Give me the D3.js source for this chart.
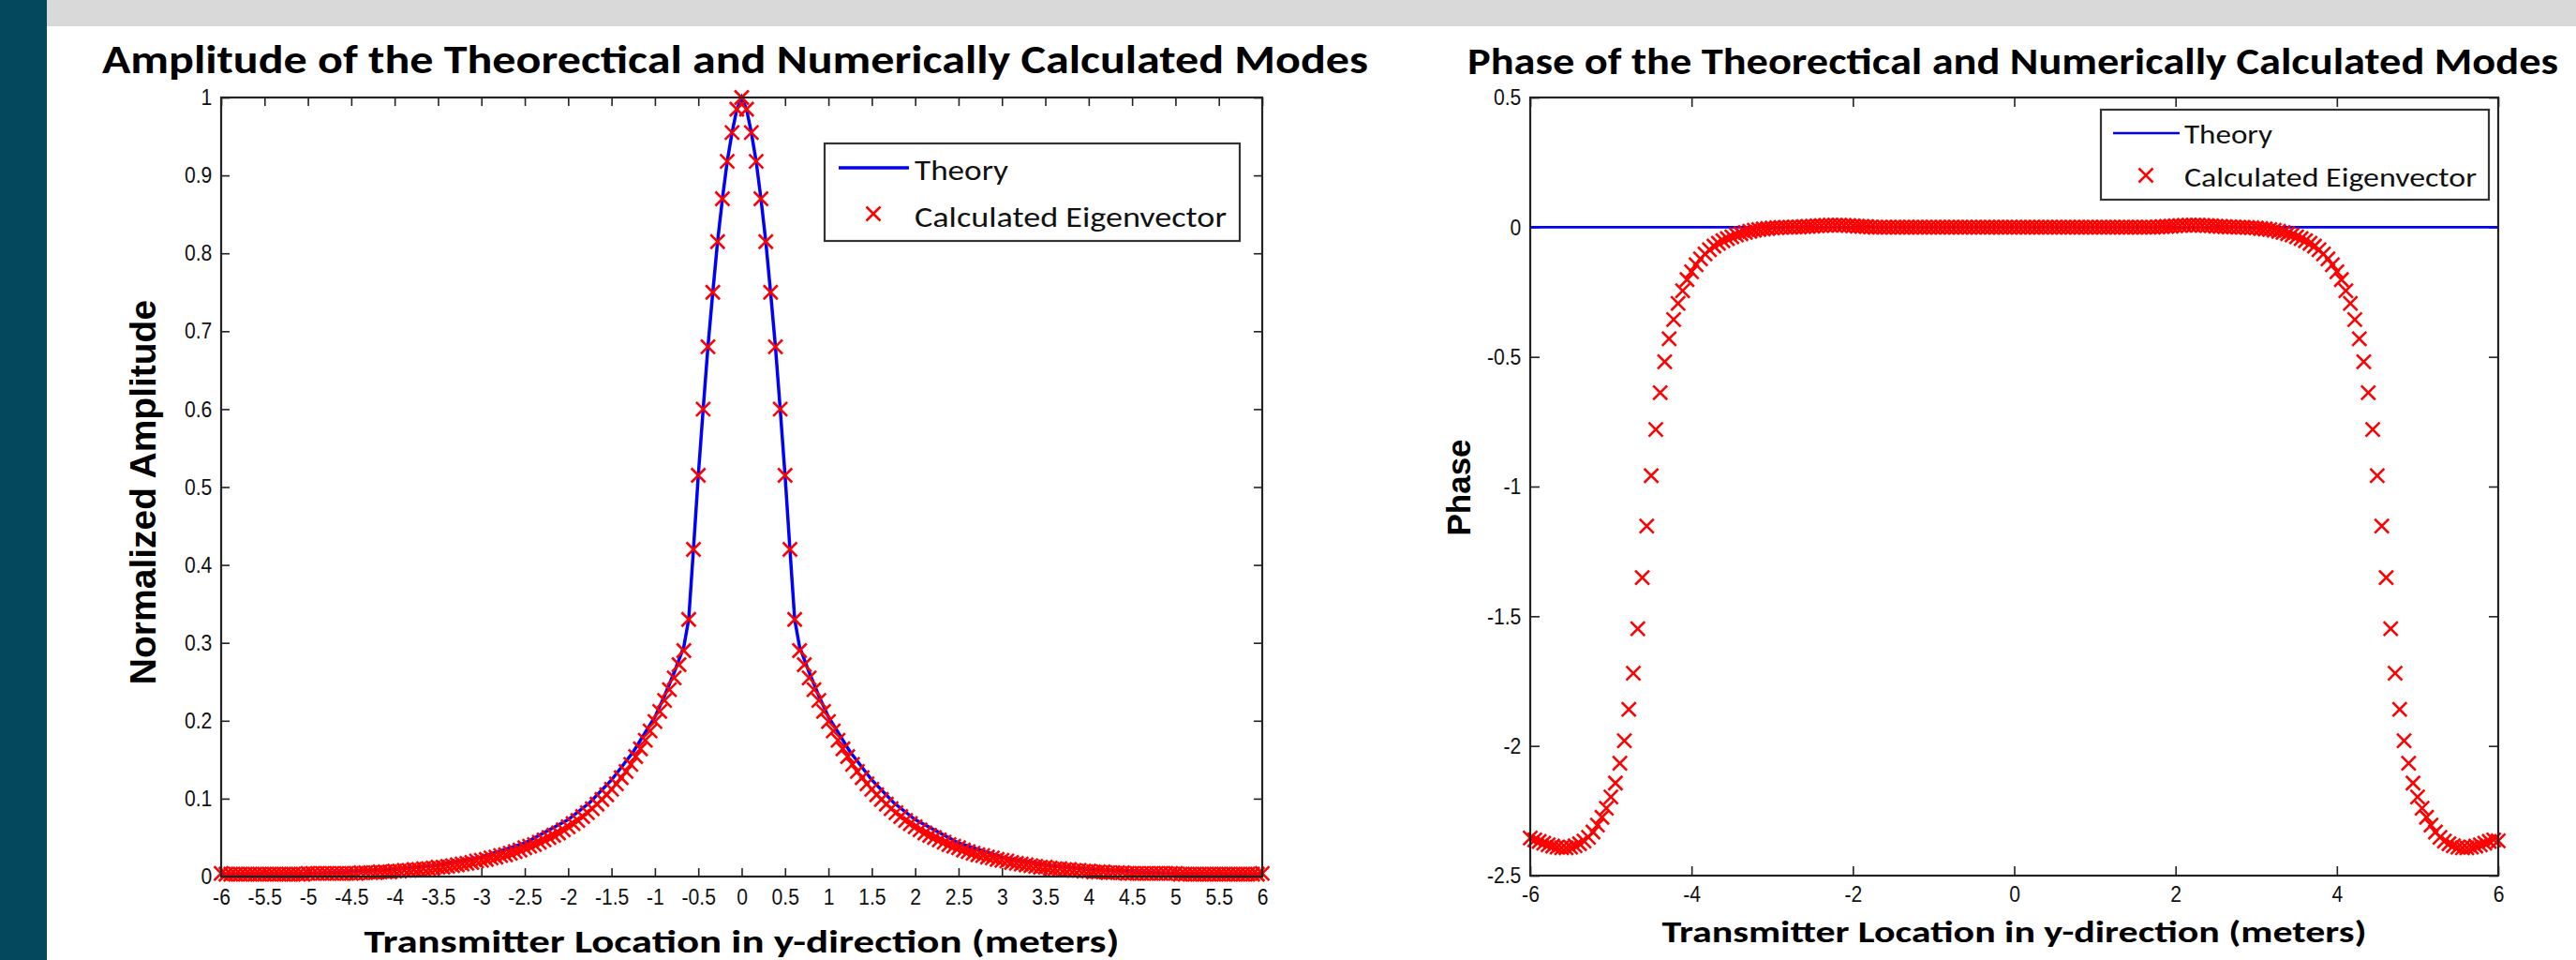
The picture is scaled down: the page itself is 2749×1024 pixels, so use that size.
<!DOCTYPE html>
<html>
<head>
<meta charset="utf-8">
<script src="https://cdn.jsdelivr.net/npm/d3@7"></script>
<style>
html, body { margin: 0; padding: 0; background: #fff; }
svg { display: block; }
</style>
</head>
<body>
<svg id="slide" width="2749" height="1024"></svg>
<script>
// sample positions (transmitter location, metres) shared by both panels
var gridX = [
  -6,-5.944,-5.889,-5.833,-5.778,-5.722,-5.667,-5.611,-5.556,-5.5,-5.444,-5.389,-5.333,-5.278,-5.222,-5.167,-5.111,-5.056,
  -5,-4.944,-4.889,-4.833,-4.778,-4.722,-4.667,-4.611,-4.556,-4.5,-4.444,-4.389,-4.333,-4.278,-4.222,-4.167,-4.111,-4.056,
  -4,-3.944,-3.889,-3.833,-3.778,-3.722,-3.667,-3.611,-3.556,-3.5,-3.444,-3.389,-3.333,-3.278,-3.222,-3.167,-3.111,-3.056,
  -3,-2.944,-2.889,-2.833,-2.778,-2.722,-2.667,-2.611,-2.556,-2.5,-2.444,-2.389,-2.333,-2.278,-2.222,-2.167,-2.111,-2.056,
  -2,-1.944,-1.889,-1.833,-1.778,-1.722,-1.667,-1.611,-1.556,-1.5,-1.444,-1.389,-1.333,-1.278,-1.222,-1.167,-1.111,-1.056,
  -1,-0.944,-0.889,-0.833,-0.778,-0.722,-0.667,-0.611,-0.556,-0.5,-0.444,-0.389,-0.333,-0.278,-0.222,-0.167,-0.111,-0.056,
  0,0.056,0.111,0.167,0.222,0.278,0.333,0.389,0.444,0.5,0.556,0.611,0.667,0.722,0.778,0.833,0.889,0.944,
  1,1.056,1.111,1.167,1.222,1.278,1.333,1.389,1.444,1.5,1.556,1.611,1.667,1.722,1.778,1.833,1.889,1.944,
  2,2.056,2.111,2.167,2.222,2.278,2.333,2.389,2.444,2.5,2.556,2.611,2.667,2.722,2.778,2.833,2.889,2.944,
  3,3.056,3.111,3.167,3.222,3.278,3.333,3.389,3.444,3.5,3.556,3.611,3.667,3.722,3.778,3.833,3.889,3.944,
  4,4.056,4.111,4.167,4.222,4.278,4.333,4.389,4.444,4.5,4.556,4.611,4.667,4.722,4.778,4.833,4.889,4.944,
  5,5.056,5.111,5.167,5.222,5.278,5.333,5.389,5.444,5.5,5.556,5.611,5.667,5.722,5.778,5.833,5.889,5.944,
  6
];

// calculated eigenvector amplitude (red x)
var ampCalc = [
  0.004,0.003,0.003,0.003,0.003,0.003,0.003,0.003,0.003,0.003,0.003,0.003,0.003,0.003,0.003,0.003,0.003,0.003,
  0.004,0.004,0.004,0.004,0.004,0.004,0.004,0.004,0.004,0.004,0.004,0.005,0.005,0.005,0.005,0.006,0.006,0.006,
  0.007,0.007,0.008,0.008,0.009,0.009,0.010,0.010,0.011,0.012,0.012,0.013,0.014,0.015,0.016,0.017,0.018,0.020,
  0.021,0.022,0.024,0.025,0.027,0.028,0.030,0.032,0.034,0.037,0.039,0.041,0.044,0.047,0.050,0.053,0.056,0.060,
  0.064,0.068,0.072,0.077,0.082,0.087,0.093,0.099,0.105,0.112,0.119,0.127,0.135,0.144,0.154,0.164,0.175,0.187,
  0.199,0.212,0.226,0.240,0.255,0.272,0.290,0.330,0.420,0.515,0.600,0.680,0.750,0.815,0.870,0.918,0.955,0.985,
  1.000,0.985,0.955,0.918,0.870,0.815,0.750,0.680,0.600,0.515,0.420,0.330,0.290,0.272,0.255,0.240,0.226,0.212,
  0.199,0.187,0.175,0.164,0.154,0.144,0.135,0.127,0.119,0.112,0.105,0.099,0.093,0.087,0.082,0.077,0.072,0.068,
  0.064,0.060,0.056,0.053,0.050,0.047,0.044,0.041,0.039,0.037,0.034,0.032,0.030,0.028,0.027,0.025,0.024,0.022,
  0.021,0.020,0.018,0.017,0.016,0.015,0.014,0.013,0.012,0.012,0.011,0.010,0.010,0.009,0.009,0.008,0.008,0.007,
  0.007,0.006,0.006,0.006,0.005,0.005,0.005,0.005,0.004,0.004,0.004,0.004,0.004,0.004,0.004,0.004,0.004,0.004,
  0.004,0.003,0.003,0.003,0.003,0.003,0.003,0.003,0.003,0.003,0.003,0.003,0.003,0.003,0.003,0.003,0.003,0.003,
  0.004
];

// theoretical amplitude (blue line)
var ampTheoryX = [-6,-5,-4.5,-4,-3.5,-3,-2.5,-2,-1.75,-1.5,-1.25,-1,-0.889,-0.778,-0.667,-0.611,-0.556,-0.5,-0.444,-0.389,-0.333,-0.278,-0.222,-0.167,-0.111,-0.056,
  0,0.056,0.111,0.167,0.222,0.278,0.333,0.389,0.444,0.5,0.556,0.611,0.667,0.778,0.889,1,1.25,1.5,1.75,2,2.5,3,3.5,4,4.5,5,6];
var ampTheory = [0.003,0.004,0.006,0.009,0.015,0.025,0.043,0.073,0.095,0.124,0.160,0.205,0.232,0.262,0.295,0.330,0.420,0.515,0.600,0.680,0.750,0.815,0.870,0.918,0.955,0.985,
  1.000,0.985,0.955,0.918,0.870,0.815,0.750,0.680,0.600,0.515,0.420,0.330,0.295,0.262,0.232,0.205,0.160,0.124,0.095,0.073,0.043,0.025,0.015,0.009,0.006,0.004,0.003];

// calculated eigenvector phase (red x)
var phaseCalc = [
  -2.355,-2.362,-2.368,-2.375,-2.381,-2.386,-2.390,-2.393,-2.393,-2.390,-2.385,-2.377,-2.367,-2.352,-2.332,-2.305,-2.275,-2.240,
  -2.197,-2.143,-2.067,-1.980,-1.859,-1.720,-1.548,-1.351,-1.152,-0.958,-0.780,-0.638,-0.519,-0.430,-0.356,-0.294,-0.245,-0.202,
  -0.172,-0.145,-0.122,-0.103,-0.087,-0.073,-0.062,-0.052,-0.044,-0.037,-0.030,-0.025,-0.020,-0.016,-0.012,-0.009,-0.007,-0.005,
  -0.003,-0.002,-0.001,0,0,0.001,0.001,0.002,0.003,0.004,0.005,0.006,0.007,0.008,0.008,0.008,0.007,0.006,
  0.005,0.004,0.003,0.002,0.001,0,0,0,0,0,0,0,0,0,0,0,0,0,
  0,0,0,0,0,0,0,0,0,0,0,0,0,0,0,0,0,0,
  0,0,0,0,0,0,0,0,0,0,0,0,0,0,0,0,0,0,
  0,0,0,0,0,0,0,0,0,0,0,0,0,0,0.001,0.002,0.003,0.004,
  0.005,0.006,0.007,0.008,0.008,0.008,0.007,0.006,0.005,0.004,0.003,0.002,0.001,0.001,0,0,-0.001,-0.002,
  -0.003,-0.005,-0.007,-0.009,-0.012,-0.016,-0.020,-0.025,-0.030,-0.037,-0.044,-0.052,-0.062,-0.073,-0.087,-0.103,-0.122,-0.145,
  -0.172,-0.202,-0.245,-0.294,-0.356,-0.430,-0.519,-0.638,-0.780,-0.958,-1.152,-1.351,-1.548,-1.720,-1.859,-1.980,-2.067,-2.143,
  -2.197,-2.240,-2.275,-2.305,-2.332,-2.352,-2.367,-2.377,-2.385,-2.390,-2.393,-2.393,-2.390,-2.386,-2.381,-2.375,-2.368,-2.362,
  -2.366
];

// theoretical phase (blue line)
var phaseTheoryX = [-6, 6];
var phaseTheory = [0, 0];

var ampXTicks = [-6,-5.5,-5,-4.5,-4,-3.5,-3,-2.5,-2,-1.5,-1,-0.5,0,0.5,1,1.5,2,2.5,3,3.5,4,4.5,5,5.5,6];
var ampYTicks = [0,0.1,0.2,0.3,0.4,0.5,0.6,0.7,0.8,0.9,1];
var phaseXTicks = [-6,-4,-2,0,2,4,6];
var phaseYTicks = [-2.5,-2,-1.5,-1,-0.5,0,0.5];

var legendNames = ["Theory", "Calculated Eigenvector"];

var tickFont = "'Liberation Sans', Arial, sans-serif";
var slideFont = "Carlito, Lato, 'Open Sans', sans-serif";

var svg = d3.select("#slide");

// slide background
svg.append("rect").attr("width", 2749).attr("height", 1024).attr("fill", "#fff");
svg.append("rect").attr("x", 50).attr("y", 0).attr("width", 2699).attr("height", 28).attr("fill", "#d9d9d9");
svg.append("rect").attr("x", 0).attr("y", 0).attr("width", 50).attr("height", 1024).attr("fill", "#03485d");

function zip(xs, ys){
  return xs.map(function(v, i){ return [v, ys[i]]; });
}

function drawPanel(c){
  var x = d3.scaleLinear().domain(c.xDomain).range([c.left, c.right]);
  var y = d3.scaleLinear().domain(c.yDomain).range([c.bottom, c.top]);
  var fmt = function(d){ return String(d); };

  var g = svg.append("g");

  // axes, ticks point inward like matlab
  g.append("g").attr("transform", "translate(0," + c.bottom + ")")
    .call(d3.axisBottom(x).tickValues(c.xTicks).tickFormat(fmt).tickSize(-c.tick).tickPadding(c.xPad));
  g.append("g").attr("transform", "translate(0," + c.top + ")")
    .call(d3.axisTop(x).tickValues(c.xTicks).tickFormat("").tickSize(-c.tick));
  g.append("g").attr("transform", "translate(" + c.left + ",0)")
    .call(d3.axisLeft(y).tickValues(c.yTicks).tickFormat(fmt).tickSize(-c.tick).tickPadding(11));
  g.append("g").attr("transform", "translate(" + c.right + ",0)")
    .call(d3.axisRight(y).tickValues(c.yTicks).tickFormat("").tickSize(-c.tick));

  g.selectAll(".domain").remove();
  g.selectAll(".tick line").attr("stroke", "#222").attr("stroke-width", 1.6);
  // matlab tick labels look tall and narrow
  g.selectAll(".tick text")
    .attr("font-family", tickFont)
    .attr("font-size", "24px")
    .attr("fill", "#111")
    .attr("transform", "scale(0.88,1)");

  // theory line then markers on top
  var line = d3.line().x(function(d){ return x(d[0]); }).y(function(d){ return y(d[1]); });
  g.append("path")
    .datum(zip(c.theoryX, c.theory))
    .attr("d", line)
    .attr("fill", "none")
    .attr("stroke", "#0000ff")
    .attr("stroke-width", c.lineW);

  var m = 7.5;
  var cross = "M" + (-m) + "," + (-m) + "L" + m + "," + m + "M" + (-m) + "," + m + "L" + m + "," + (-m);
  g.selectAll(".calc")
    .data(zip(gridX, c.calc))
    .enter()
    .append("path")
    .attr("class", "calc")
    .attr("transform", function(d){ return "translate(" + x(d[0]) + "," + y(d[1]) + ")"; })
    .attr("d", cross)
    .attr("stroke", "#ff0000")
    .attr("stroke-width", 2.6)
    .attr("fill", "none");

  // box
  g.append("rect")
    .attr("x", c.left).attr("y", c.top)
    .attr("width", c.right - c.left).attr("height", c.bottom - c.top)
    .attr("fill", "none").attr("stroke", "#222").attr("stroke-width", 2.2);

  // legend
  var L = c.legend;
  g.append("rect")
    .attr("x", L.x0).attr("y", L.y0).attr("width", L.x1 - L.x0).attr("height", L.y1 - L.y0)
    .attr("fill", "#fff").attr("stroke", "#333").attr("stroke-width", 2.2);
  g.append("line")
    .attr("x1", L.lineX0).attr("x2", L.lineX1).attr("y1", L.lineY).attr("y2", L.lineY)
    .attr("stroke", "#0000ff").attr("stroke-width", c.lineW);
  g.append("path")
    .attr("transform", "translate(" + L.markX + "," + L.markY + ")")
    .attr("d", cross)
    .attr("stroke", "#ff0000").attr("stroke-width", 2.6);
  g.selectAll(".legtext")
    .data(legendNames)
    .enter()
    .append("text")
    .attr("x", L.textX)
    .attr("y", function(d, i){ return L.textY[i]; })
    .attr("font-family", slideFont)
    .attr("font-size", L.fs + "px")
    .attr("fill", "#111")
    .attr("textLength", function(d, i){ return L.len[i]; })
    .attr("lengthAdjust", "spacingAndGlyphs")
    .text(function(d){ return d; });

  // title
  svg.append("text")
    .attr("x", c.title.x).attr("y", c.title.y)
    .attr("font-family", slideFont).attr("font-weight", "bold")
    .attr("font-size", c.title.fs + "px")
    .attr("textLength", c.title.len).attr("lengthAdjust", "spacingAndGlyphs")
    .text(c.title.text);

  // x label
  svg.append("text")
    .attr("x", (c.left + c.right) / 2).attr("y", c.xlab.y)
    .attr("text-anchor", "middle")
    .attr("font-family", slideFont).attr("font-weight", "bold")
    .attr("font-size", c.xlab.fs + "px")
    .attr("textLength", c.xlab.len).attr("lengthAdjust", "spacingAndGlyphs")
    .text(c.xlab.text);

  // y label
  svg.append("text")
    .attr("transform", "translate(" + c.ylab.x + "," + c.ylab.cy + ") rotate(-90)")
    .attr("text-anchor", "middle")
    .attr("font-family", tickFont).attr("font-weight", "bold")
    .attr("font-size", c.ylab.fs + "px")
    .text(c.ylab.text);
}

drawPanel({
  left: 236, right: 1347, top: 104, bottom: 935,
  xDomain: [-6, 6], yDomain: [0, 1],
  xTicks: ampXTicks, yTicks: ampYTicks,
  tick: 9, xPad: 13, lineW: 3.5,
  theoryX: ampTheoryX, theory: ampTheory, calc: ampCalc,
  legend: { x0: 880, y0: 153, x1: 1323, y1: 257, lineX0: 895, lineX1: 970, lineY: 179,
            markX: 932, markY: 228, textX: 976, textY: [192, 242], fs: 31, len: [100, 333] },
  title: { text: "Amplitude of the Theorectical and Numerically Calculated Modes", x: 109, y: 78, fs: 43, len: 1351 },
  xlab: { text: "Transmitter Location in y-direction (meters)", y: 1016, fs: 35, len: 806 },
  ylab: { text: "Normalized Amplitude", x: 166, cy: 525, fs: 39 }
});

drawPanel({
  left: 1633, right: 2666, top: 104, bottom: 934,
  xDomain: [-6, 6], yDomain: [-2.5, 0.5],
  xTicks: phaseXTicks, yTicks: phaseYTicks,
  tick: 10, xPad: 11, lineW: 2.6,
  theoryX: phaseTheoryX, theory: phaseTheory, calc: phaseCalc,
  legend: { x0: 2242, y0: 117, x1: 2656, y1: 213, lineX0: 2255, lineX1: 2326, lineY: 142,
            markX: 2290, markY: 187, textX: 2331, textY: [153, 199], fs: 29, len: [94, 312] },
  title: { text: "Phase of the Theorectical and Numerically Calculated Modes", x: 1566, y: 79, fs: 40, len: 1164 },
  xlab: { text: "Transmitter Location in y-direction (meters)", y: 1005, fs: 33, len: 752 },
  ylab: { text: "Phase", x: 1569, cy: 520, fs: 35 }
});
</script>
</body>
</html>
